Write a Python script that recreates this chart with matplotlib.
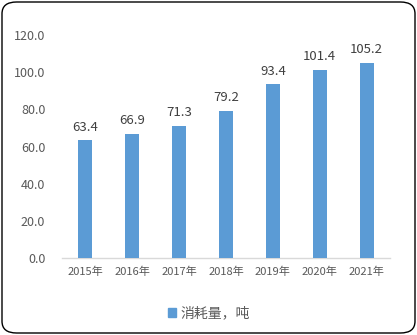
import matplotlib
matplotlib.use("Agg")
import matplotlib.pyplot as plt
from matplotlib.patches import FancyBboxPatch, Patch

plt.rcParams["font.family"] = ["Noto Sans CJK SC", "DejaVu Sans"]

years = ["2015年", "2016年", "2017年", "2018年", "2019年", "2020年", "2021年"]
consumption = [63.4, 66.9, 71.3, 79.2, 93.4, 101.4, 105.2]
series_name = "消耗量，吨"

BAR = "#5B9BD5"
TEXT = "#595959"

fig = plt.figure(figsize=(4.17, 3.35), dpi=100)
ax = fig.add_axes([62 / 417, 1 - 258 / 335, 328 / 417, 223 / 335])

x = range(len(years))
ax.bar(x, consumption, width=0.3, color=BAR, zorder=3)
for xi, v in zip(x, consumption):
    ax.text(xi, v + 3.5, f"{v:.1f}", ha="center", va="bottom",
            fontsize=9.5, color="#404040")

ax.set_xlim(-0.5, len(years) - 0.5)
ax.set_ylim(0, 120)
ax.set_yticks(range(0, 121, 20))
ax.set_yticklabels([f"{t:.1f}" for t in range(0, 121, 20)])
ax.set_xticks(list(x))
ax.set_xticklabels(years)
ax.tick_params(axis="y", length=0, labelsize=9, colors=TEXT, pad=12)
ax.tick_params(axis="x", length=0, labelsize=8, colors=TEXT, pad=6)

for side in ("top", "right", "left"):
    ax.spines[side].set_visible(False)
ax.spines["bottom"].set_color("#D9D9D9")
ax.spines["bottom"].set_linewidth(1.0)

fig.legend(handles=[Patch(color=BAR, label=series_name)],
           loc="center", bbox_to_anchor=(0.5, 1 - 313 / 335),
           frameon=False, fontsize=10, handlelength=0.6, handleheight=0.6,
           handletextpad=0.3, labelcolor=TEXT)

# rounded chart-area border
fig.patches.append(FancyBboxPatch((2 / 417, 2 / 335), 413 / 417, 331 / 335,
                                  boxstyle="round,pad=0,rounding_size=0.035",
                                  transform=fig.transFigure, fill=False,
                                  edgecolor="black", linewidth=1.0))

fig.savefig("out.png", dpi=100)
